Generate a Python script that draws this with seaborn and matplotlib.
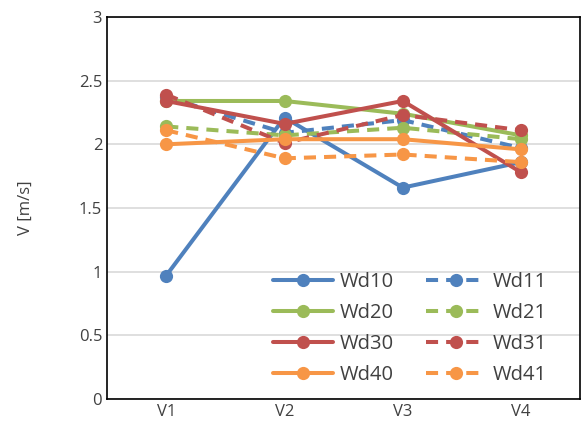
import pandas as pd
import matplotlib
matplotlib.use("Agg")
import matplotlib.pyplot as plt
import seaborn as sns

# data
positions = ["V1", "V2", "V3", "V4"]
wd10 = [0.97, 2.21, 1.66, 1.86]
wd11 = [2.37, 2.09, 2.19, 1.97]
wd20 = [2.34, 2.34, 2.24, 2.07]
wd21 = [2.14, 2.07, 2.13, 2.04]
wd30 = [2.34, 2.16, 2.34, 1.78]
wd31 = [2.39, 2.01, 2.23, 2.11]
wd40 = [2.00, 2.04, 2.04, 1.96]
wd41 = [2.11, 1.89, 1.92, 1.86]

series = {
    "Wd10": wd10, "Wd11": wd11,
    "Wd20": wd20, "Wd21": wd21,
    "Wd30": wd30, "Wd31": wd31,
    "Wd40": wd40, "Wd41": wd41,
}
colors = {"1": "#4F81BD", "2": "#9BBB59", "3": "#C0504D", "4": "#F79646"}

sns.set_style("white")
plt.rcParams["font.family"] = ["Open Sans", "DejaVu Sans"]

fig = plt.figure(figsize=(5.82, 4.44), dpi=100)
ax = fig.add_axes([0.184, 0.101, 0.813, 0.861])

for name, vals in series.items():
    df = pd.DataFrame({"pos": range(len(positions)), "V": vals})
    dashed = name.endswith("1")
    sns.lineplot(data=df, x="pos", y="V", ax=ax, color=colors[name[2]],
                 linewidth=2.9, marker="o", markersize=9.5,
                 markeredgewidth=0, label=name,
                 linestyle=(0, (3, 2)) if dashed else "-")

ax.set_xlim(-0.5, 3.5)
ax.set_ylim(0, 3)
ax.set_xticks(range(len(positions)))
ax.set_xticklabels(positions)
ax.set_yticks([0, 0.5, 1, 1.5, 2, 2.5, 3])
ax.set_yticklabels(["0", "0.5", "1", "1.5", "2", "2.5", "3"])
ax.yaxis.grid(True, color="#D9D9D9", linewidth=1.2)
ax.set_axisbelow(True)
ax.set_xlabel("")
ax.set_ylabel("V [m/s]", fontsize=12, color="#404040", labelpad=32)
ax.tick_params(axis="both", labelsize=12, colors="#404040", length=0)
for sp in ax.spines.values():
    sp.set_color("black")
    sp.set_linewidth(1.2)

# row-major legend order: Wd10 Wd11 / Wd20 Wd21 ...
handles, labels = ax.get_legend_handles_labels()
order = [0, 2, 4, 6, 1, 3, 5, 7]
ax.legend([handles[i] for i in order], [labels[i] for i in order],
          ncol=2, loc="lower right", bbox_to_anchor=(0.95, 0.01),
          frameon=False, fontsize=14.5, handlelength=3.0, borderpad=0,
          columnspacing=1.6, labelspacing=0.55, handletextpad=0.3,
          labelcolor="#404040")

plt.savefig("out.png", dpi=100)
plt.close()
